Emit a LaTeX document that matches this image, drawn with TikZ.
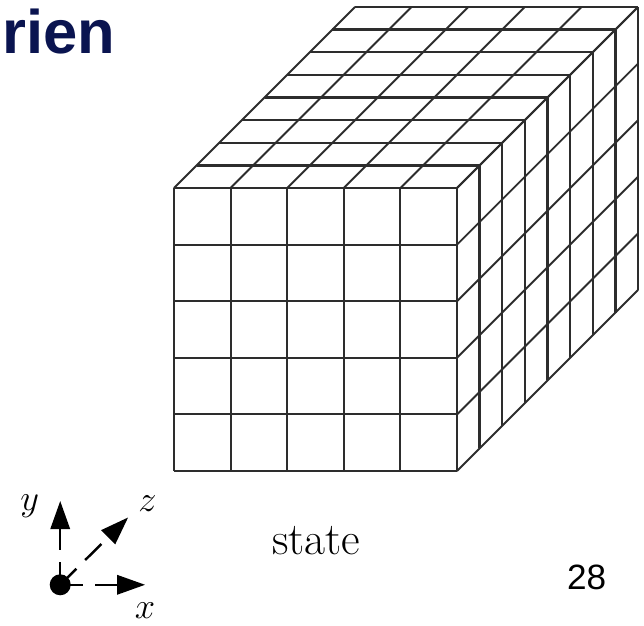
\documentclass[tikz,border=0pt]{standalone}
\usepackage{fontspec}
\newfontfamily\slidefont{Liberation Sans}
\usetikzlibrary{arrows.meta, positioning, calc}
\definecolor{titleblue}{RGB}{10,20,80}
\definecolor{gridgray}{RGB}{45,45,45}

\begin{document}
\begin{tikzpicture}[x=1.132cm, y=1.132cm,
    cell/.style={draw=gridgray, line width=1.1pt},
    slice/.style={draw=gridgray, line width=1.3pt},
    axis/.style={line width=1.4pt, dash pattern=on 13pt off 7pt,
      -{Triangle[length=16pt, width=11pt]}},
    lbl/.style={inner sep=0pt, font=\fontsize{22}{26}\selectfont}]
    \useasboundingbox (-3.074,-2.721) rectangle (8.304,8.322);

    % front face, 5x5
    \foreach \i in {0,...,5} {
      \draw[cell] (\i,0) -- (\i,5);
      \draw[cell] (0,\i) -- (5,\i);
    }
    % top and right faces, 8 slices deep
    \foreach \k in {0,...,8} {
      \draw[slice] ($(0,5)+(0.4*\k,0.4*\k)$) -- ($(5,5)+(0.4*\k,0.4*\k)$);
      \draw[slice] ($(5,0)+(0.4*\k,0.4*\k)$) -- ($(5,5)+(0.4*\k,0.4*\k)$);
    }
    \foreach \i in {0,...,5} {
      \draw[cell] (\i,5) -- ++(3.2,3.2);
      \draw[cell] (5,\i) -- ++(3.2,3.2);
    }

    % axes
    \node[circle, fill=black, inner sep=0pt, minimum size=0.42cm] (o) at (-2.01,-2.01) {};
    \coordinate (xtip) at (-0.51,-2.01);
    \coordinate (ytip) at (-2.01,-0.53);
    \coordinate (ztip) at (-0.81,-0.82);
    \draw[axis] (o.center) -- (xtip);
    \draw[axis] (o.center) -- (ytip);
    \draw[axis] (o.center) -- (ztip);
    \node[lbl] (xl) at (-0.51,-2.47) {$x$};
    \node[lbl] (yl) at (-2.55,-0.63) {$y$};
    \node[lbl] (zl) at (-0.47,-0.57) {$z$};

    \node[lbl, anchor=base west, font=\fontsize{26}{30}\selectfont] (state) at (1.73,-1.48) {state};
    \node[inner sep=0pt, anchor=base west, font=\slidefont\fontsize{20}{24}\selectfont]
      (page) at (6.94,-2.10) {28};
    \node[inner sep=0pt, anchor=base west, text=titleblue,
      font=\slidefont\bfseries\fontsize{35}{40}\selectfont] (title) at (-3.04,7.385) {rien};
\end{tikzpicture}
\end{document}
